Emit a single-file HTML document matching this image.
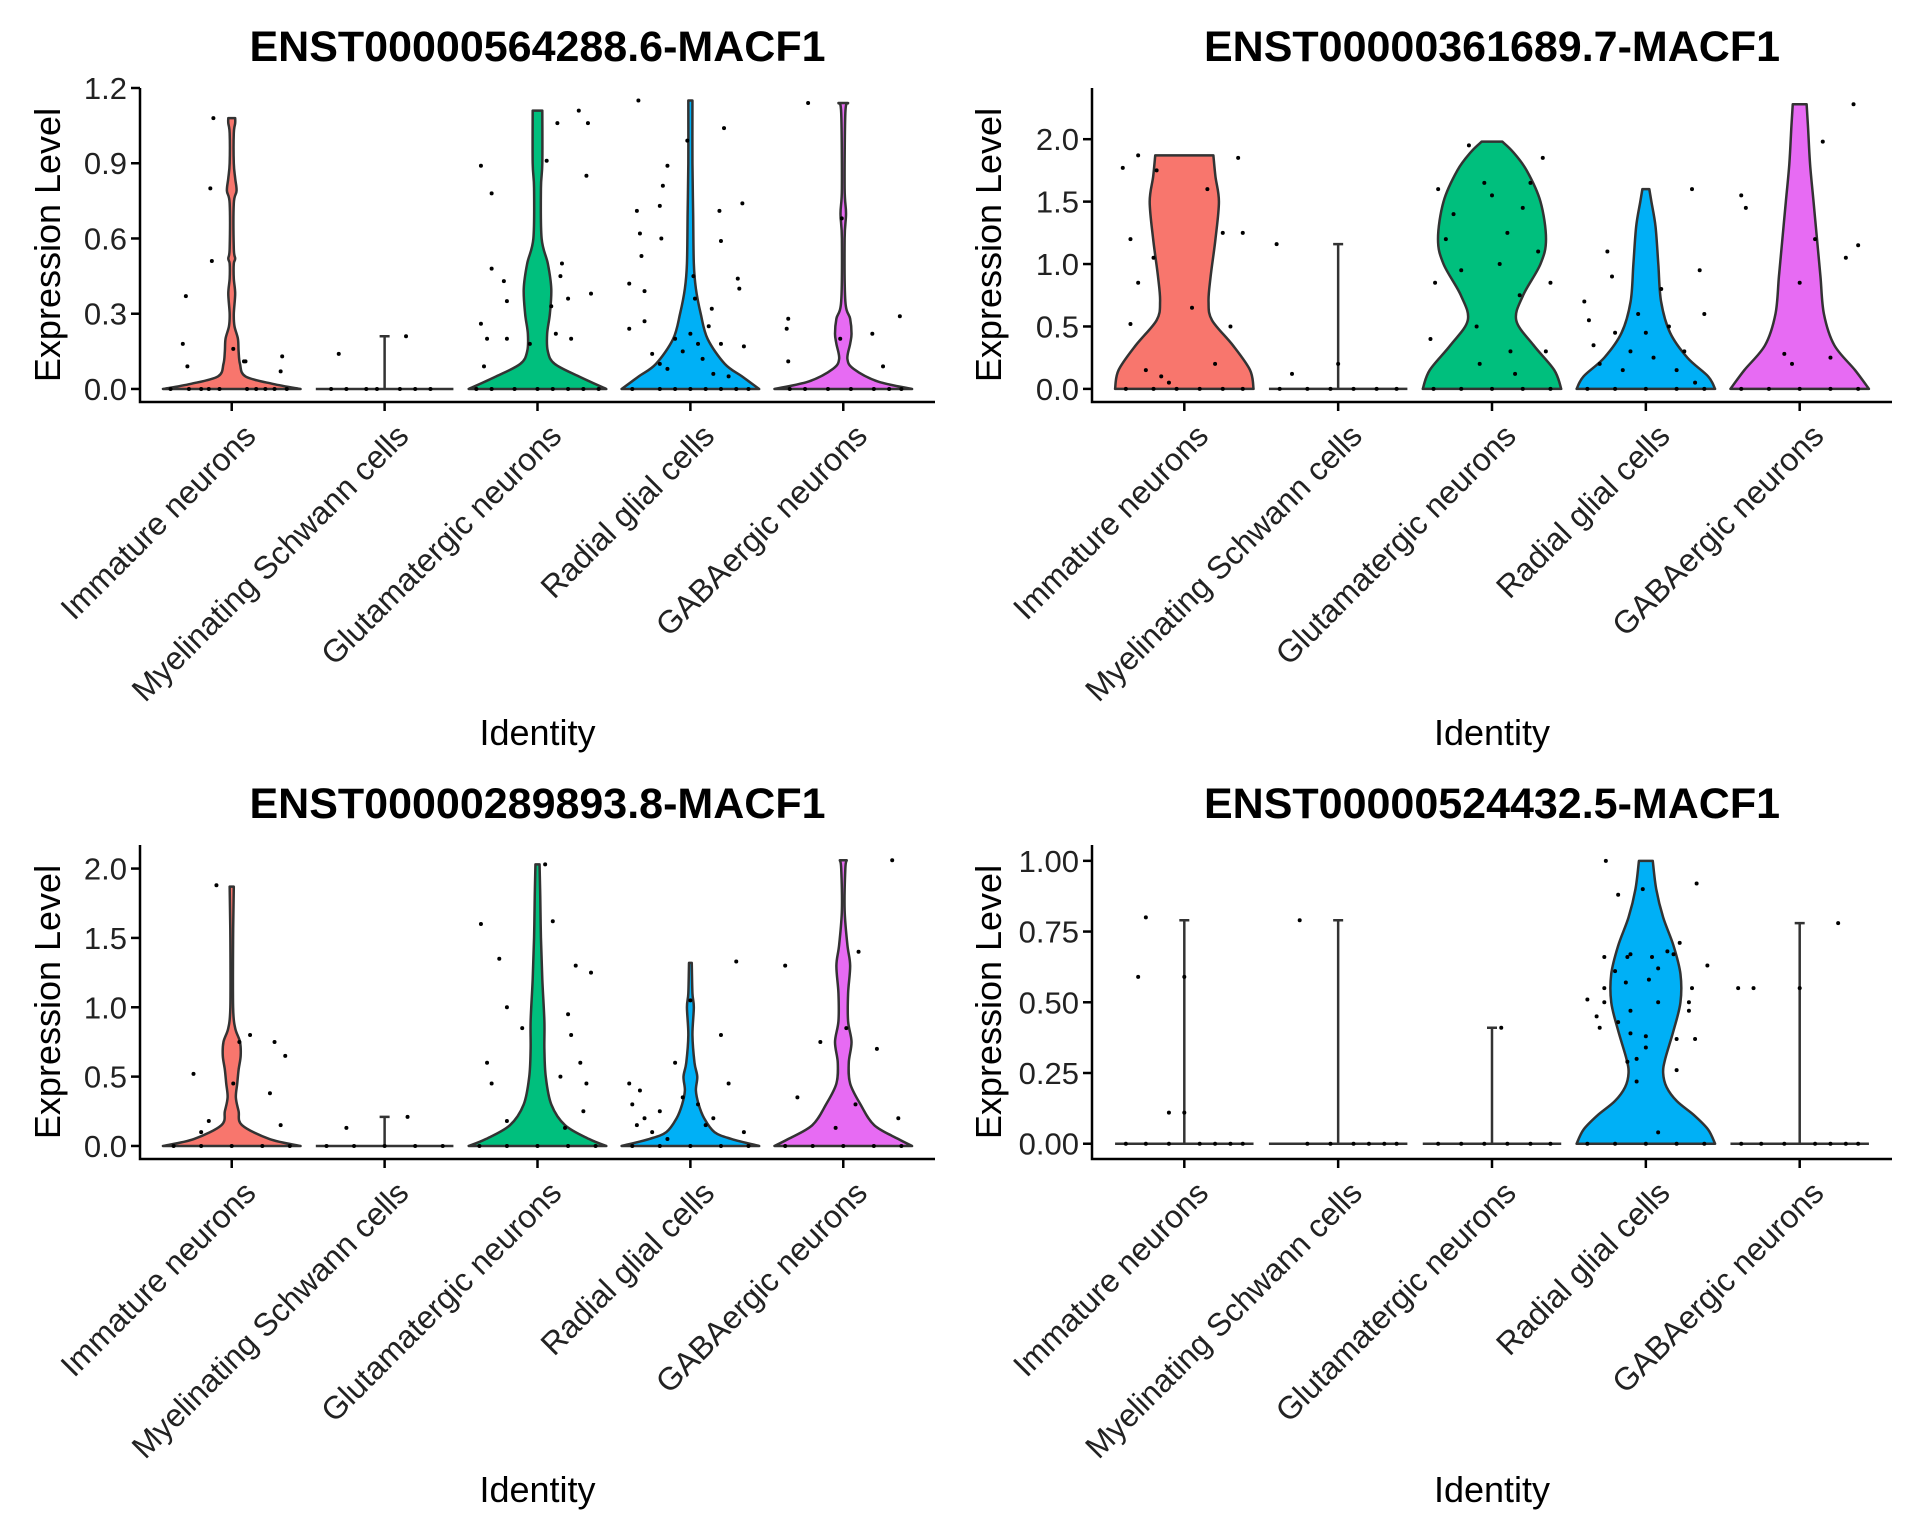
<!DOCTYPE html>
<html><head><meta charset="utf-8"><style>
html,body{margin:0;padding:0;background:#fff}
svg{display:block;font-family:"Liberation Sans",sans-serif}
</style></head><body>
<svg id="fig" width="1920" height="1536" viewBox="0 0 1920 1536" xmlns="http://www.w3.org/2000/svg"></svg>
<script>
const categories = ["Immature neurons","Myelinating Schwann cells","Glutamatergic neurons","Radial glial cells","GABAergic neurons"];
const colors = ["#F8766D","#A3A500","#00BF7D","#00B0F6","#E76BF3"];
const titles = ["ENST00000564288.6-MACF1","ENST00000361689.7-MACF1","ENST00000289893.8-MACF1","ENST00000524432.5-MACF1"];
const yTicks1 = [0,0.3,0.6,0.9,1.2];
const yTicks2 = [0,0.5,1.0,1.5,2.0];
const yTicks3 = [0,0.5,1.0,1.5,2.0];
const yTicks4 = [0,0.25,0.5,0.75,1.0];
const yTickLabels1 = ["0.0","0.3","0.6","0.9","1.2"];
const yTickLabels2 = ["0.0","0.5","1.0","1.5","2.0"];
const yTickLabels3 = ["0.0","0.5","1.0","1.5","2.0"];
const yTickLabels4 = ["0.00","0.25","0.50","0.75","1.00"];
const violins1 = [
 [[0,1],[0.02,0.6],[0.05,0.2],[0.1,0.12],[0.15,0.1],[0.2,0.09],[0.25,0.04],[0.3,0.03],[0.38,0.05],[0.44,0.03],[0.5,0.03],[0.52,0.05],[0.56,0.03],[0.74,0.03],[0.79,0.07],[0.84,0.05],[0.9,0.03],[1.02,0.03],[1.06,0.05],[1.08,0.05]],
 {line:0.21},
 [[0,1],[0.05,0.6],[0.1,0.25],[0.15,0.15],[0.22,0.14],[0.3,0.18],[0.4,0.2],[0.5,0.15],[0.6,0.06],[0.8,0.05],[0.9,0.07],[1.11,0.07]],
 [[0,1],[0.05,0.75],[0.1,0.5],[0.2,0.25],[0.3,0.15],[0.4,0.08],[0.5,0.05],[0.7,0.04],[0.9,0.03],[1.15,0.03]],
 [[0,1],[0.03,0.5],[0.08,0.15],[0.12,0.06],[0.18,0.1],[0.22,0.12],[0.28,0.1],[0.35,0.03],[0.6,0.02],[0.7,0.04],[0.8,0.02],[1.1,0.03],[1.14,0.07]]
];
const violins2 = [
 [[0,1],[0.15,0.95],[0.35,0.7],[0.55,0.4],[0.7,0.35],[0.9,0.38],[1.2,0.45],[1.5,0.5],[1.7,0.45],[1.87,0.42]],
 {line:1.16},
 [[0,1],[0.15,0.9],[0.35,0.6],[0.55,0.35],[0.75,0.45],[1.0,0.7],[1.2,0.78],[1.5,0.7],[1.75,0.5],[1.9,0.3],[1.98,0.15]],
 [[0,1],[0.1,0.9],[0.25,0.6],[0.45,0.35],[0.7,0.22],[1.0,0.18],[1.3,0.14],[1.5,0.08],[1.6,0.05]],
 [[0,1],[0.15,0.8],[0.35,0.5],[0.6,0.35],[0.9,0.3],[1.2,0.25],[1.5,0.2],[1.8,0.15],[2.1,0.12],[2.28,0.1]]
];
const violins3 = [
 [[0,1],[0.05,0.55],[0.15,0.15],[0.25,0.1],[0.35,0.06],[0.45,0.08],[0.55,0.1],[0.65,0.13],[0.75,0.12],[0.85,0.05],[1.0,0.02],[1.5,0.02],[1.87,0.03]],
 {line:0.21},
 [[0,1],[0.05,0.75],[0.15,0.4],[0.3,0.2],[0.5,0.12],[0.7,0.1],[0.9,0.1],[1.2,0.07],[1.5,0.05],[1.8,0.04],[2.03,0.03]],
 [[0,1],[0.05,0.6],[0.1,0.35],[0.2,0.2],[0.3,0.12],[0.4,0.08],[0.5,0.1],[0.6,0.06],[0.8,0.03],[1.0,0.05],[1.1,0.03],[1.32,0.02]],
 [[0,1],[0.05,0.8],[0.15,0.45],[0.3,0.25],[0.45,0.1],[0.6,0.08],[0.75,0.12],[0.9,0.07],[1.1,0.07],[1.3,0.1],[1.45,0.06],[1.7,0.02],[2.0,0.03],[2.06,0.05]]
];
const violins4 = [
 {line:0.79},{line:0.79},{line:0.41},
 [[0,1],[0.05,0.9],[0.1,0.7],[0.15,0.45],[0.2,0.3],[0.25,0.25],[0.3,0.28],[0.4,0.4],[0.5,0.5],[0.6,0.5],[0.7,0.4],[0.8,0.25],[0.9,0.15],[1.0,0.1]],
 {line:0.78}
];
const points1 = [
 [[-0.3,0.37],[-0.32,0.18],[-0.29,0.09],[-0.12,1.08],[-0.14,0.8],[-0.13,0.51],[0.01,0.16],[0.08,0.11],[0.09,0.11],[0.33,0.13],[0.32,0.07],[-0.4,0],[-0.28,0],[-0.2,0],[-0.15,0],[-0.08,0],[0.1,0],[0.16,0],[0.22,0],[0.28,0],[0.36,0]],
 [[-0.3,0.14],[0.14,0.21],[-0.35,0],[-0.25,0],[-0.12,0],[-0.05,0],[0.1,0],[0.2,0],[0.3,0]],
 [[-0.37,0.89],[-0.3,0.78],[-0.37,0.26],[-0.33,0.2],[-0.3,0.48],[-0.2,0.35],[-0.22,0.43],[0.06,0.91],[0.13,1.06],[0.27,1.11],[0.33,1.06],[0.32,0.85],[0.15,0.45],[0.16,0.5],[0.2,0.36],[0.35,0.38],[0.09,0.33],[0.12,0.22],[0.22,0.2],[-0.05,0.18],[-0.2,0.2],[-0.35,0.09],[-0.4,0],[-0.3,0],[-0.15,0],[0,0],[0.1,0],[0.2,0],[0.3,0],[0.4,0]],
 [[-0.34,1.15],[-0.35,0.71],[-0.33,0.62],[-0.32,0.53],[-0.3,0.39],[-0.4,0.42],[-0.4,0.24],[-0.3,0.27],[-0.19,0.6],[-0.18,0.81],[-0.15,0.89],[-0.2,0.73],[-0.02,0.99],[0.22,1.04],[0.19,0.71],[0.2,0.59],[0.34,0.74],[0.31,0.44],[0.32,0.4],[0.14,0.32],[0.03,0.36],[0.02,0.45],[0.12,0.25],[0.2,0.18],[0.35,0.17],[-0.25,0.14],[-0.2,0.1],[-0.1,0.2],[-0.05,0.15],[0,0.22],[0.05,0.18],[0.08,0.12],[-0.15,0.08],[0.15,0.06],[0.25,0.05],[-0.38,0],[-0.2,0],[-0.1,0],[0,0],[0.1,0],[0.2,0],[0.3,0],[0.38,0]],
 [[-0.23,1.14],[-0.01,0.68],[-0.36,0.28],[-0.37,0.24],[-0.36,0.11],[-0.02,0.2],[0.19,0.22],[0.37,0.29],[0.26,0.09],[-0.35,0],[-0.25,0],[-0.1,0],[0.05,0],[0.2,0],[0.3,0],[0.38,0]]
];
const points2 = [
 [[-0.4,1.77],[-0.3,1.87],[-0.18,1.75],[-0.35,1.2],[-0.2,1.05],[-0.35,0.52],[-0.3,0.85],[-0.25,0.15],[-0.1,0.05],[0.05,0.65],[0.15,1.6],[0.25,1.25],[0.35,1.85],[0.3,0.5],[0.2,0.2],[0.38,1.25],[-0.15,0.1],[-0.38,0],[-0.2,0],[-0.05,0],[0.1,0],[0.25,0],[0.38,0]],
 [[-0.4,1.16],[-0.3,0.12],[0.0,0.2],[-0.38,0],[-0.2,0],[-0.05,0],[0.1,0],[0.25,0],[0.38,0]],
 [[-0.4,0.4],[-0.37,0.85],[-0.35,1.6],[-0.3,1.2],[-0.25,1.4],[-0.2,0.95],[-0.15,1.95],[-0.1,0.5],[-0.05,1.65],[0,1.55],[0.05,1.0],[0.1,1.25],[0.12,0.3],[0.18,0.75],[0.2,1.45],[0.25,1.65],[0.3,1.1],[0.33,1.85],[0.38,0.85],[0.35,0.3],[-0.08,0.2],[0.15,0.12],[-0.38,0],[-0.2,0],[0,0],[0.2,0],[0.38,0]],
 [[-0.4,0.7],[-0.37,0.55],[-0.34,0.35],[-0.3,0.2],[-0.25,1.1],[-0.22,0.9],[-0.2,0.45],[-0.15,0.15],[-0.1,0.3],[-0.05,0.6],[0,0.45],[0.05,0.25],[0.1,0.8],[0.15,0.5],[0.2,0.15],[0.25,0.3],[0.3,1.6],[0.35,0.95],[0.38,0.6],[0.32,0.05],[-0.38,0],[-0.2,0],[0,0],[0.2,0],[0.38,0]],
 [[-0.38,1.55],[-0.35,1.45],[-0.1,0.28],[-0.05,0.2],[0.0,0.85],[0.1,1.2],[0.15,1.98],[0.2,0.25],[0.3,1.05],[0.38,1.15],[0.35,2.28],[-0.38,0],[-0.2,0],[0,0],[0.2,0],[0.38,0]]
];
const points3 = [
 [[-0.25,0.52],[-0.15,0.18],[-0.1,1.88],[-0.2,0.1],[0.05,0.75],[0.12,0.8],[0.28,0.75],[0.35,0.65],[0.25,0.38],[0.32,0.15],[0.01,0.45],[-0.38,0],[-0.2,0],[0,0],[0.2,0],[0.38,0]],
 [[-0.25,0.13],[0.15,0.21],[-0.38,0],[-0.2,0],[0,0],[0.2,0],[0.38,0]],
 [[-0.37,1.6],[-0.33,0.6],[-0.3,0.45],[-0.2,0.18],[-0.25,1.35],[-0.2,1.0],[0.1,1.62],[0.2,0.95],[0.22,0.8],[0.28,0.6],[0.3,0.25],[0.32,0.45],[0.35,1.25],[0.25,1.3],[0.15,0.5],[0.05,2.03],[0.18,0.13],[-0.1,0.85],[-0.38,0],[-0.2,0],[0,0],[0.2,0],[0.38,0]],
 [[-0.4,0.45],[-0.38,0.3],[-0.35,0.15],[-0.33,0.4],[-0.3,0.2],[-0.25,0.1],[-0.2,0.25],[-0.15,0.05],[-0.1,0.6],[-0.05,0.35],[0,1.05],[0.05,0.3],[0.1,0.15],[0.15,0.2],[0.2,0.8],[0.25,0.45],[0.3,1.33],[0.35,0.1],[-0.38,0],[-0.2,0],[0,0],[0.2,0],[0.38,0]],
 [[-0.38,1.3],[-0.3,0.35],[-0.15,0.75],[-0.05,0.13],[0.02,0.85],[0.1,1.4],[0.22,0.7],[0.32,2.06],[0.36,0.2],[0.08,0.3],[-0.38,0],[-0.2,0],[0,0],[0.2,0],[0.38,0]]
];
const points4 = [
 [[-0.25,0.8],[-0.3,0.59],[-0.1,0.11],[0.0,0.59],[0.0,0.11],[-0.38,0],[-0.25,0],[-0.1,0],[0.1,0],[0.2,0],[0.3,0],[0.38,0]],
 [[-0.25,0.79],[-0.2,0],[-0.05,0],[0.1,0],[0.2,0],[0.3,0],[0.38,0]],
 [[0.06,0.41],[-0.35,0],[-0.2,0],[-0.05,0],[0.1,0],[0.25,0],[0.38,0]],
 [[-0.26,1.0],[-0.18,0.88],[-0.02,0.9],[0.33,0.92],[-0.27,0.66],[-0.12,0.66],[-0.1,0.67],[0.04,0.66],[0.14,0.68],[0.22,0.71],[0.4,0.63],[0.18,0.67],[-0.2,0.61],[0.08,0.62],[-0.27,0.55],[-0.13,0.57],[0.3,0.55],[0.02,0.58],[-0.38,0.51],[-0.27,0.5],[-0.1,0.47],[0.08,0.5],[0.28,0.5],[0.28,0.47],[-0.32,0.45],[-0.3,0.41],[-0.18,0.43],[-0.1,0.39],[0.0,0.38],[0.2,0.37],[0.32,0.37],[0.0,0.34],[-0.12,0.29],[-0.06,0.3],[0.2,0.26],[-0.06,0.22],[0.08,0.04],[-0.38,0],[-0.2,0],[0,0],[0.2,0],[0.38,0]],
 [[-0.4,0.55],[-0.3,0.55],[0.0,0.55],[0.25,0.78],[-0.38,0],[-0.25,0],[-0.1,0],[0.1,0],[0.2,0],[0.3,0],[0.38,0]]
];

const NS = "http://www.w3.org/2000/svg";
const svg = document.getElementById("fig");
function mk(tag, attrs, parent){ const e=document.createElementNS(NS,tag); for(const k in attrs) e.setAttribute(k,attrs[k]); (parent||svg).appendChild(e); return e; }
function smooth(pts){
  let d = "";
  for (let i=0;i<pts.length-1;i++){
    const p0=pts[Math.max(0,i-1)], p1=pts[i], p2=pts[i+1], p3=pts[Math.min(pts.length-1,i+2)];
    const c1=[p1[0]+(p2[0]-p0[0])/6, p1[1]+(p2[1]-p0[1])/6];
    const c2=[p2[0]-(p3[0]-p1[0])/6, p2[1]-(p3[1]-p1[1])/6];
    d += `C${c1[0]},${c1[1]} ${c2[0]},${c2[1]} ${p2[0]},${p2[1]}`;
  }
  return d;
}

const panels = [
 {ox:0, oy:0, ymin:-0.052, ymax:1.2, ticks:yTicks1, labels:yTickLabels1, v:violins1, p:points1},
 {ox:952, oy:0, ymin:-0.105, ymax:2.41, ticks:yTicks2, labels:yTickLabels2, v:violins2, p:points2},
 {ox:0, oy:757, ymin:-0.094, ymax:2.17, ticks:yTicks3, labels:yTickLabels3, v:violins3, p:points3},
 {ox:952, oy:757, ymin:-0.054, ymax:1.056, ticks:yTicks4, labels:yTickLabels4, v:violins4, p:points4}
];

panels.forEach((P, pi) => {
  const L = 140+P.ox, R = 935+P.ox + (P.ox?5:0), T = 88+P.oy, B = 402+P.oy;
  const g = mk("g",{});
  
  
  const yS = v => B - (v - P.ymin)/(P.ymax - P.ymin)*(B - T);
  const step = (R-L)/5.2;
  const xS = i => L + step*(0.6 + i);
  const hw = 0.45*step;

  const title = mk("text",{x:(L+R)/2, y:61+P.oy, "text-anchor":"middle","font-size":43,"font-weight":"bold",fill:"#000"},g);
  title.textContent = titles[pi];
  
  

  P.v.forEach((v, ci) => {
    const cx = xS(ci);
    if (v.line !== undefined) {
      const ln = mk("path",{d:`M${cx-hw},${yS(0)}H${cx+hw}M${cx},${yS(0)}V${yS(v.line)}M${cx-5},${yS(v.line)}H${cx+5}`,stroke:"#333","stroke-width":2.5,fill:"none"},g);
      
      
    } else {
      const right = v.map(pt=>[cx+pt[1]*hw, yS(pt[0])]);
      const left = v.slice().reverse().map(pt=>[cx-pt[1]*hw, yS(pt[0])]);
      let d = `M${right[0][0]},${right[0][1]}` + smooth(right) + `L${left[0][0]},${left[0][1]}` + smooth(left) + "Z";
      const vp = mk("path",{d:d,fill:colors[ci],stroke:"#333","stroke-width":2.5,"stroke-linejoin":"round"},g);
      
      
    }
  });
  P.p.forEach((arr, ci) => {
    arr.forEach(pt => {
      const c = mk("circle",{cx:xS(ci)+pt[0]*step, cy:yS(pt[1]), r:2, fill:"#000"},g);
      
      
    });
  });
  const ax = mk("path",{d:`M${L},${T}V${B}H${R}`,stroke:"#000","stroke-width":2.5,fill:"none"},g);
  
  
  P.ticks.forEach((t,k)=>{
    const y=yS(t);
    mk("line",{x1:L-9,x2:L,y1:y,y2:y,stroke:"#000","stroke-width":2.5},g);
    const tl = mk("text",{x:L-13,y:y+11,"text-anchor":"end","font-size":31,fill:"#222"},g);
    tl.textContent = P.labels[k];
    
    
  });
  categories.forEach((c,i)=>{
    const x=xS(i);
    mk("line",{x1:x,x2:x,y1:B,y2:B+9,stroke:"#000","stroke-width":2.5},g);
    const tl = mk("text",{transform:`translate(${x+10},${B+20}) rotate(-45)`,"text-anchor":"end",dy:"0.7em","font-size":32,fill:"#222"},g);
    tl.textContent = c;
    
    
  });
  const yt = mk("text",{transform:`translate(${60+P.ox-(P.ox?11:0)},${(T+B)/2}) rotate(-90)`,"text-anchor":"middle","font-size":36,fill:"#000"},g);
  yt.textContent = "Expression Level";
  
  
  const xt = mk("text",{x:(L+R)/2,y:745+P.oy,"text-anchor":"middle","font-size":36,fill:"#000"},g);
  xt.textContent = "Identity";
  
  
});
</script>
</body></html>
